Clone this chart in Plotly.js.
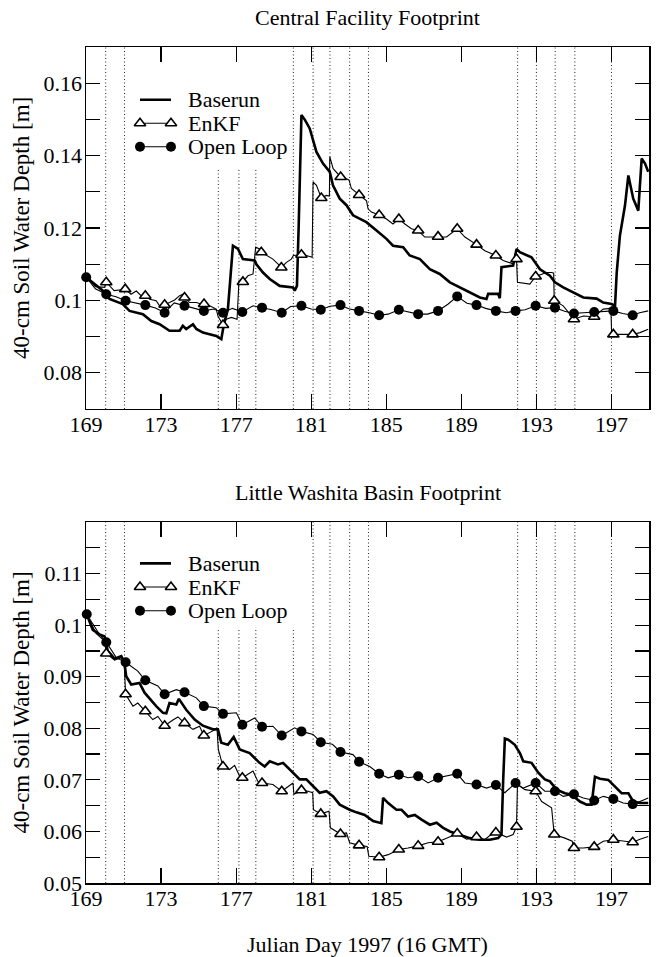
<!DOCTYPE html>
<html>
<head>
<meta charset="utf-8">
<script src="https://cdn.plot.ly/plotly-3.0.1.min.js"></script>
<style>html,body{margin:0;padding:0;background:#fff;}#chart{width:657px;height:957px;}</style>
</head>
<body>
<div id="chart"></div>
<script>
// ---------------- DATA ----------------
const assimDays = [170.05, 171.05, 176.05, 177.15, 178.05, 180.05, 181.1, 182.0, 183.05, 184.05, 192.0, 193.0, 194.0, 195.05, 197.0];
const xTickVals = [169, 173, 177, 181, 185, 189, 193, 197];
const topYTickVals = [0.08, 0.1, 0.12, 0.14, 0.16];
const topYTickText = ['0.08', '0.1', '0.12', '0.14', '0.16'];
const botYTickVals = [0.05, 0.06, 0.07, 0.08, 0.09, 0.1, 0.11];
const botYTickText = ['0.05', '0.06', '0.07', '0.08', '0.09', '0.1', '0.11'];
const seriesNames = ['Baserun', 'EnKF', 'Open Loop'];
const panelTitles = ['Central Facility Footprint', 'Little Washita Basin Footprint'];
const yTitle = '40-cm Soil Water Depth [m]';
const xTitle = 'Julian Day 1997 (16 GMT)';

// Central Facility footprint
const cfBaseDay = [169.01,169.9,170.25,170.96,171.32,172.03,172.48,172.92,173.45,173.99,174.16,174.34,174.7,174.88,175.23,175.94,176.21,176.35,176.56,176.74,176.83,177.1,177.36,177.99,178.08,178.43,178.79,179.32,180.03,180.12,180.24,180.33,180.48,180.65,180.92,181.28,181.63,181.99,182.16,182.52,182.88,183.23,183.59,183.94,184.48,185.01,185.36,185.9,186.25,186.79,187.32,187.85,188.39,188.92,189.45,189.99,190.34,190.43,190.96,191.05,191.14,191.76,191.94,192.12,192.74,193.19,193.72,193.99,194.43,194.96,195.5,196.21,196.56,197.01,197.19,197.28,197.45,197.72,197.9,198.16,198.43,198.61,198.79,198.96];
const cfBaseVal = [0.1064,0.1027,0.1004,0.0990,0.0971,0.0962,0.0943,0.0934,0.0916,0.0916,0.0930,0.0921,0.0934,0.0921,0.0911,0.0902,0.0893,0.0935,0.0975,0.1100,0.1151,0.1142,0.1114,0.1110,0.1100,0.1077,0.1059,0.1040,0.1036,0.1027,0.1040,0.1200,0.1512,0.1500,0.1475,0.1410,0.1378,0.1355,0.1318,0.1281,0.1263,0.1235,0.1226,0.1216,0.1193,0.1170,0.1151,0.1147,0.1124,0.1114,0.1086,0.1073,0.1050,0.1036,0.1022,0.1008,0.1004,0.1018,0.1018,0.1006,0.1092,0.1096,0.1142,0.1133,0.1119,0.1086,0.1068,0.1050,0.1036,0.1022,0.1008,0.1005,0.0994,0.0990,0.0985,0.1077,0.1179,0.1262,0.1345,0.1281,0.1248,0.1392,0.1378,0.1355];

const cfEnkfMarkDay = [170.08,171.09,172.16,173.19,174.25,175.29,176.3,177.36,178.34,179.41,180.48,181.54,182.57,183.55,184.62,185.67,186.7,187.76,188.78,189.81,190.84,191.94,192.96,193.95,195.0,196.08,197.1,198.13];
const cfEnkfMarkVal = [0.1050,0.1031,0.1013,0.0988,0.1008,0.0990,0.0932,0.1051,0.1133,0.1091,0.1126,0.1283,0.1341,0.1291,0.1236,0.1225,0.1193,0.1176,0.1198,0.1154,0.1124,0.1114,0.1066,0.0999,0.0948,0.0955,0.0906,0.0906];
const cfEnkfDay = [169.01,169.5,170.0,170.05,170.5,171.0,171.4,171.68,171.94,172.39,172.74,172.92,173.45,173.72,173.99,174.16,174.52,174.88,175.14,175.59,175.94,176.03,176.48,176.74,177.05,177.15,177.63,177.9,178.04,178.25,178.61,178.96,179.32,179.68,179.94,180.05,180.74,181.05,181.1,181.28,181.81,181.97,181.99,182.17,182.88,183.02,183.14,183.95,184.03,184.21,185.01,185.36,185.99,186.34,187.05,187.32,188.21,189.19,190.25,191.23,191.76,191.99,192.65,193.54,193.81,193.92,194.43,195.5,196.56,196.97,197.01,198.52,198.96];
const cfEnkfVal = [0.1064,0.1038,0.1036,0.1054,0.1027,0.1030,0.1017,0.1026,0.1013,0.1003,0.0999,0.0985,0.0994,0.1001,0.1013,0.1017,0.0994,0.0994,0.0990,0.0985,0.0976,0.0957,0.0948,0.0953,0.0948,0.1054,0.1068,0.1073,0.1147,0.1142,0.1124,0.1114,0.1096,0.1105,0.1114,0.1124,0.1124,0.1119,0.1327,0.1318,0.1290,0.1288,0.1397,0.1364,0.1336,0.1332,0.1309,0.1275,0.1253,0.1244,0.1225,0.1211,0.1211,0.1198,0.1175,0.1175,0.1175,0.1175,0.1137,0.1110,0.1101,0.1050,0.1045,0.1077,0.1077,0.1075,0.0985,0.0957,0.0976,0.0978,0.0906,0.0911,0.0920];

const cfOpenMarkDay = [169.01,170.08,171.11,172.16,173.19,174.25,175.28,176.3,177.33,178.38,179.43,180.48,181.51,182.56,183.55,184.62,185.67,186.7,187.76,188.78,189.81,190.84,191.89,192.96,193.99,195.0,196.08,197.1,198.13];
const cfOpenMarkVal = [0.1064,0.1017,0.0999,0.0987,0.0966,0.0985,0.0971,0.0966,0.0968,0.0980,0.0966,0.0985,0.0974,0.0987,0.0971,0.0959,0.0974,0.0962,0.0971,0.1011,0.0987,0.0971,0.0971,0.0985,0.0980,0.0964,0.0968,0.0971,0.0959];
const cfOpenDay = [169.5,170.6,171.6,172.7,173.7,174.8,175.8,176.8,177.9,178.9,179.9,181.0,182.0,183.0,184.1,185.1,186.2,187.2,188.3,189.3,190.3,191.4,192.4,193.5,194.5,195.5,196.6,197.6,198.5,198.96];
const cfOpenVal = [0.1032,0.1010,0.0994,0.0979,0.0993,0.0976,0.0976,0.0978,0.0985,0.0974,0.0983,0.0976,0.0984,0.0977,0.0966,0.0962,0.0968,0.0962,0.0990,0.0992,0.0978,0.0966,0.0974,0.0978,0.0970,0.0966,0.0969,0.0964,0.0966,0.0971];

// Little Washita Basin footprint
const lwBaseDay = [169.04,169.36,169.72,169.99,170.16,170.52,170.88,171.05,171.14,171.41,171.85,172.12,172.74,173.1,173.28,173.45,173.81,173.95,174.34,174.79,175.23,175.76,176.03,176.21,176.56,176.87,177.19,177.72,178.25,178.52,178.79,179.23,179.5,180.03,180.39,180.74,181.1,181.45,181.81,182.17,182.52,183.05,183.41,183.85,184.3,184.74,184.83,185.1,185.54,185.81,186.16,186.52,186.88,187.32,187.68,188.03,188.39,188.92,189.45,189.99,190.52,190.96,191.14,191.23,191.32,191.5,191.85,192.12,192.3,192.74,193.1,193.45,193.72,194.08,194.52,194.88,195.32,195.68,195.94,196.12,196.39,196.83,197.19,197.54,197.9,198.16,198.52,198.96];
const lwBaseVal = [0.1021,0.0991,0.0982,0.0978,0.0950,0.0935,0.0940,0.0927,0.0901,0.0885,0.0888,0.0869,0.0843,0.0830,0.0829,0.0849,0.0846,0.0857,0.0836,0.0817,0.0805,0.0798,0.0798,0.0772,0.0768,0.0783,0.0759,0.0752,0.0733,0.0726,0.0736,0.0730,0.0733,0.0714,0.0701,0.0701,0.0688,0.0675,0.0678,0.0668,0.0652,0.0642,0.0637,0.0632,0.0620,0.0616,0.0665,0.0655,0.0642,0.0642,0.0629,0.0632,0.0623,0.0613,0.0617,0.0607,0.0600,0.0594,0.0587,0.0584,0.0584,0.0587,0.0594,0.0700,0.0780,0.0778,0.0768,0.0752,0.0736,0.0733,0.0714,0.0701,0.0697,0.0681,0.0674,0.0671,0.0658,0.0652,0.0652,0.0706,0.0702,0.0700,0.0687,0.0674,0.0674,0.0658,0.0655,0.0655];

const lwEnkfMarkDay = [170.08,171.11,172.16,173.19,174.25,175.28,176.3,177.33,178.38,179.43,180.48,181.51,182.56,183.55,184.62,185.67,186.7,187.76,188.78,189.81,190.84,191.94,192.96,193.95,195.0,196.08,197.1,198.13];
const lwEnkfMarkVal = [0.0945,0.0866,0.0833,0.0805,0.0810,0.0786,0.0726,0.0704,0.0694,0.0678,0.0680,0.0634,0.0595,0.0573,0.0550,0.0565,0.0572,0.0580,0.0596,0.0589,0.0598,0.0609,0.0678,0.0594,0.0568,0.0570,0.0584,0.0579];
const lwEnkfDay = [169.04,169.54,169.99,170.52,170.88,171.03,171.5,171.76,172.56,172.83,173.63,173.9,174.7,175.05,175.76,175.98,176.05,176.65,176.92,177.19,177.9,178.16,178.96,179.32,180.03,180.08,180.83,181.08,181.12,181.95,182.02,182.88,183.05,183.98,184.07,185.1,186.16,187.23,188.21,189.28,190.25,190.52,191.41,191.76,191.99,192.39,193.28,193.81,194.52,194.91,195.5,196.56,197.63,198.52,198.96];
const lwEnkfVal = [0.1021,0.0984,0.0969,0.0932,0.0937,0.0930,0.0843,0.0849,0.0817,0.0823,0.0816,0.0822,0.0798,0.0804,0.0795,0.0801,0.0759,0.0720,0.0728,0.0707,0.0717,0.0697,0.0691,0.0681,0.0694,0.0672,0.0678,0.0675,0.0642,0.0639,0.0607,0.0597,0.0578,0.0571,0.0552,0.0555,0.0568,0.0578,0.0587,0.0585,0.0584,0.0592,0.0589,0.0594,0.0691,0.0681,0.0658,0.0646,0.0587,0.0581,0.0568,0.0581,0.0581,0.0585,0.0590];

const lwOpenMarkDay = [169.04,170.08,171.11,172.16,173.19,174.25,175.28,176.3,177.33,178.38,179.43,180.48,181.51,182.56,183.55,184.62,185.67,186.7,187.76,188.78,189.81,190.84,191.89,192.96,193.99,195.0,196.08,197.1,198.13];
const lwOpenMarkVal = [0.1021,0.0967,0.0928,0.0893,0.0866,0.0870,0.0843,0.0828,0.0807,0.0803,0.0786,0.0794,0.0773,0.0754,0.0735,0.0712,0.0710,0.0707,0.0704,0.0712,0.0691,0.0690,0.0694,0.0694,0.0678,0.0672,0.0660,0.0663,0.0653];
const lwOpenDay = [169.72,170.61,171.76,172.83,173.81,174.88,175.94,177.01,177.99,178.96,180.12,181.1,182.13,183.23,184.12,185.1,186.16,187.23,188.21,189.19,190.34,191.32,192.3,193.45,194.43,195.5,196.56,197.63,198.52,198.96];
const lwOpenVal = [0.0982,0.0937,0.0911,0.0882,0.0875,0.0859,0.0840,0.0830,0.0820,0.0804,0.0801,0.0788,0.0769,0.0749,0.0726,0.0704,0.0704,0.0694,0.0707,0.0694,0.0684,0.0675,0.0684,0.0678,0.0668,0.0665,0.0668,0.0655,0.0658,0.0665];

// ---------------- BUILD ----------------
function merge(d1, v1, d2, v2) {
  const pts = d1.map((d, i) => [d, v1[i]]).concat(d2.map((d, i) => [d, v2[i]]));
  pts.sort((a, b) => a[0] - b[0]);
  return { x: pts.map(p => p[0]), y: pts.map(p => p[1]) };
}

const FONT = 'Liberation Serif';
const THICK = 2.6, THIN = 1.1;
const triMarker = { symbol: 'triangle-up', size: 10, color: '#fff', line: { color: '#000', width: 1.6 } };
const dotMarker = { symbol: 'circle', size: 10, color: '#000', line: { width: 0 } };

function panelTraces(xa, ya, base, enkfM, enkfL, openM, openL) {
  const enkf = merge(enkfM[0], enkfM[1], enkfL[0], enkfL[1]);
  const open = merge(openM[0], openM[1], openL[0], openL[1]);
  return [
    { x: enkf.x, y: enkf.y, xaxis: xa, yaxis: ya, mode: 'lines', line: { color: '#000', width: THIN }, showlegend: false, hoverinfo: 'skip' },
    { x: open.x, y: open.y, xaxis: xa, yaxis: ya, mode: 'lines', line: { color: '#000', width: THIN }, showlegend: false, hoverinfo: 'skip' },
    { x: base[0], y: base[1], xaxis: xa, yaxis: ya, mode: 'lines', line: { color: '#000', width: THICK }, showlegend: false, hoverinfo: 'skip' },
    { x: enkfM[0], y: enkfM[1], xaxis: xa, yaxis: ya, mode: 'markers', marker: triMarker, showlegend: false, hoverinfo: 'skip', cliponaxis: false },
    { x: openM[0], y: openM[1], xaxis: xa, yaxis: ya, mode: 'markers', marker: dotMarker, showlegend: false, hoverinfo: 'skip', cliponaxis: false }
  ];
}

function legendTraces(xa, ya) {
  return [
    { x: [0, 1], y: [1, 1], xaxis: xa, yaxis: ya, mode: 'lines', line: { color: '#000', width: THICK }, showlegend: false, hoverinfo: 'skip', cliponaxis: false },
    { x: [0, 1], y: [2, 2], xaxis: xa, yaxis: ya, mode: 'lines+markers', line: { color: '#000', width: THIN }, marker: triMarker, showlegend: false, hoverinfo: 'skip', cliponaxis: false },
    { x: [0, 1], y: [3, 3], xaxis: xa, yaxis: ya, mode: 'lines+markers', line: { color: '#000', width: THIN }, marker: dotMarker, showlegend: false, hoverinfo: 'skip', cliponaxis: false }
  ];
}

const data = []
  .concat(panelTraces('x', 'y', [cfBaseDay, cfBaseVal], [cfEnkfMarkDay, cfEnkfMarkVal], [cfEnkfDay, cfEnkfVal], [cfOpenMarkDay, cfOpenMarkVal], [cfOpenDay, cfOpenVal]))
  .concat(panelTraces('x2', 'y2', [lwBaseDay, lwBaseVal], [lwEnkfMarkDay, lwEnkfMarkVal], [lwEnkfDay, lwEnkfVal], [lwOpenMarkDay, lwOpenMarkVal], [lwOpenDay, lwOpenVal]))
  .concat(legendTraces('x3', 'y3'))
  .concat(legendTraces('x4', 'y4'));

const tickFont = { family: FONT, size: 22, color: '#000' };
function xAxis(anchor) {
  return { anchor: anchor, domain: [0, 1], range: [169, 199], tickmode: 'array', tickvals: xTickVals, ticktext: xTickVals.map(String),
    ticks: 'inside', ticklen: 15, tickwidth: 1.2, tickcolor: '#000', showline: true, linecolor: '#000', linewidth: 1.5,
    mirror: 'ticks', showgrid: false, zeroline: false, tickfont: tickFont, fixedrange: true, ticklabelstandoff: -5 };
}
function yAxis(anchor, domain, range, tv, tt, minorStep) {
  return { anchor: anchor, domain: domain, range: range, tickmode: 'array', tickvals: tv, ticktext: tt,
    ticks: 'inside', ticklen: 14, tickwidth: 1.2, tickcolor: '#000', showline: true, linecolor: '#000', linewidth: 1.5,
    mirror: 'ticks', showgrid: false, zeroline: false, tickfont: tickFont, fixedrange: true, ticklabelstandoff: -2,
    minor: { dtick: minorStep, tick0: 0, ticks: 'inside', ticklen: 14, tickwidth: 1.2, tickcolor: '#000', showgrid: false } };
}
// legend sample axes: 1 unit = sample length; text placed to the right
function legAxisX(domain) { return { domain: domain, range: [-0.2, 4.84], visible: false, fixedrange: true }; }
function legAxisY(domain) { return { domain: domain, range: [3.5, 0.5], visible: false, fixedrange: true }; }

const shapes = [];
const dotLine = { color: '#222', width: 1, dash: '1px,2.5px' };
assimDays.forEach(d => {
  shapes.push({ type: 'line', xref: 'x', yref: 'y domain', x0: d, x1: d, y0: 0, y1: 1, layer: 'below', line: dotLine });
  shapes.push({ type: 'line', xref: 'x2', yref: 'y2 domain', x0: d, x1: d, y0: 0, y1: 1, layer: 'below', line: dotLine });
});
// white legend boxes (hide the dotted lines behind the legends)
shapes.push({ type: 'rect', xref: 'x domain', yref: 'y domain', x0: 0.078, x1: 0.362, y0: 0.666, y1: 1, layer: 'below', fillcolor: '#fff', line: { width: 0 } });
shapes.push({ type: 'rect', xref: 'x2 domain', yref: 'y2 domain', x0: 0.078, x1: 0.38, y0: 0.707, y1: 1, layer: 'below', fillcolor: '#fff', line: { width: 0 } });

const annFont = { family: FONT, size: 22, color: '#000' };
const annotations = [
  { text: panelTitles[0], xref: 'paper', yref: 'paper', x: 0.5, y: 1.0347, xanchor: 'center', yanchor: 'middle', showarrow: false, font: annFont },
  { text: panelTitles[1], xref: 'paper', yref: 'paper', x: 0.5, y: 0.4677, xanchor: 'center', yanchor: 'middle', showarrow: false, font: annFont },
  { text: xTitle, xref: 'paper', yref: 'paper', x: 0.5, y: -0.073, xanchor: 'center', yanchor: 'middle', showarrow: false, font: annFont },
  { text: yTitle, xref: 'paper', yref: 'paper', x: -0.1137, y: 0.7835, xanchor: 'center', yanchor: 'middle', textangle: -90, showarrow: false, font: { family: FONT, size: 23, color: '#000' } },
  { text: yTitle, xref: 'paper', yref: 'paper', x: -0.1137, y: 0.2159, xanchor: 'center', yanchor: 'middle', textangle: -90, showarrow: false, font: { family: FONT, size: 23, color: '#000' } }
];
seriesNames.forEach((n, i) => {
  annotations.push({ text: n, xref: 'x3', yref: 'y3', x: 1.5, y: i + 1, xanchor: 'left', yanchor: 'middle', showarrow: false, font: annFont });
  annotations.push({ text: n, xref: 'x4', yref: 'y4', x: 1.5, y: i + 1, xanchor: 'left', yanchor: 'middle', showarrow: false, font: annFont });
});

const layout = {
  width: 657, height: 957,
  margin: { l: 86, r: 8, t: 47, b: 74 },
  paper_bgcolor: '#fff', plot_bgcolor: 'rgba(0,0,0,0)',
  font: { family: FONT, size: 22, color: '#000' },
  showlegend: false,
  xaxis: xAxis('y'),
  yaxis: yAxis('x', [0.567, 1], [0.07, 0.17], topYTickVals, topYTickText, 0.01),
  xaxis2: xAxis('y2'),
  yaxis2: yAxis('x2', [0, 0.4318], [0.05, 0.12], botYTickVals, botYTickText, 0.005),
  xaxis3: legAxisX([0.0849, 0.3623]),
  yaxis3: legAxisY([0.8666, 0.951]),
  xaxis4: legAxisX([0.0849, 0.3623]),
  yaxis4: legAxisY([0.3116, 0.3965]),
  shapes: shapes,
  annotations: annotations
};

Plotly.newPlot('chart', data, layout, { staticPlot: true, displayModeBar: false });
</script>
</body>
</html>
